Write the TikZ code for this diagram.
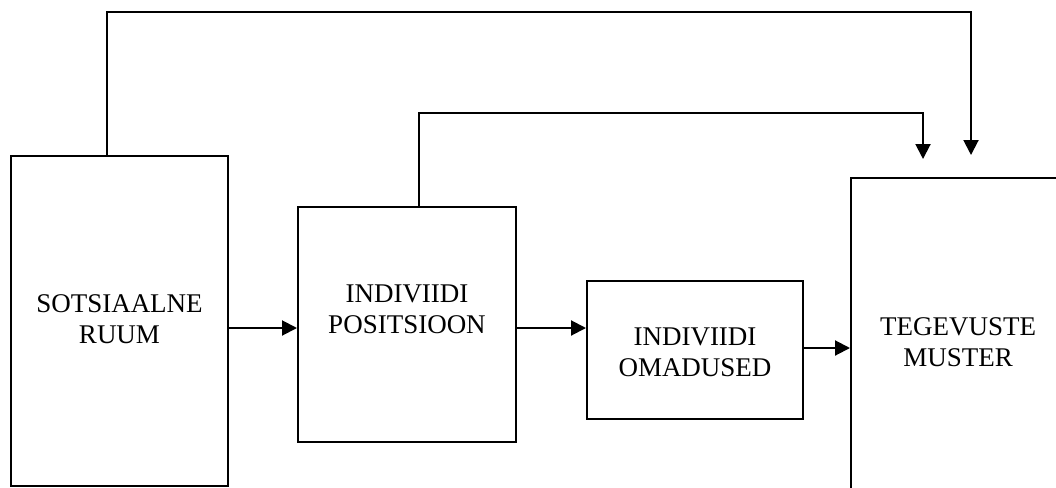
\documentclass[tikz,border=0pt]{standalone}
\usepackage{fontspec}
\setmainfont{Liberation Serif}
\usepackage{tikz}
\usetikzlibrary{positioning, arrows.meta}

\begin{document}
\begin{tikzpicture}[
    x=1pt, y=-1pt,
    font=\fontsize{27}{31}\selectfont,
    box/.style={rectangle, draw, line width=2pt, inner sep=0pt},
    txt/.style={align=center, inner sep=0pt},
    arrow/.style={-{Triangle[width=15pt,length=15pt]}, line width=2pt}
]
\useasboundingbox (0,0) rectangle (1056,487);

% Boxes
\node[box, minimum width=217pt, minimum height=330pt] (ruum) at (119.5,321) {};
\node[box, minimum width=218pt, minimum height=235pt] (positsioon) at (407,324.5) {};
\node[box, minimum width=216pt, minimum height=138pt] (omadused) at (695,350) {};
\node[box, minimum width=214pt, minimum height=328pt] (muster) at (958,342) {};

% Texts
\node[txt] (ruumT) at (119.5,319.5) {SOTSIAALNE\\RUUM};
\node[txt] (positsioonT) at (407,309) {INDIVIIDI\\POSITSIOON};
\node[txt] (omadusedT) at (695,352) {INDIVIIDI\\OMADUSED};
\node[txt] (musterT) at (958,342) {TEGEVUSTE\\MUSTER};

% Arrow ends above the last box
\coordinate (inA) at (923,159);
\coordinate (inB) at (971,155);

% Arrows left to right
\draw[arrow] ([yshift=-7pt]ruum.east) -- ([yshift=-7pt]ruum.east -| positsioon.west);
\draw[arrow] ([yshift=-3.5pt]positsioon.east) -- ([yshift=-3.5pt]positsioon.east -| omadused.west);
\draw[arrow] ([yshift=2pt]omadused.east) -- ([yshift=2pt]omadused.east -| muster.west);

% Arrows over the top
\draw[arrow] (ruum.north -| 107,0) -- (107,12) -| (inB);
\draw[arrow] (positsioon.north -| 419,0) -- (419,113) -| (inA);

\end{tikzpicture}
\end{document}
